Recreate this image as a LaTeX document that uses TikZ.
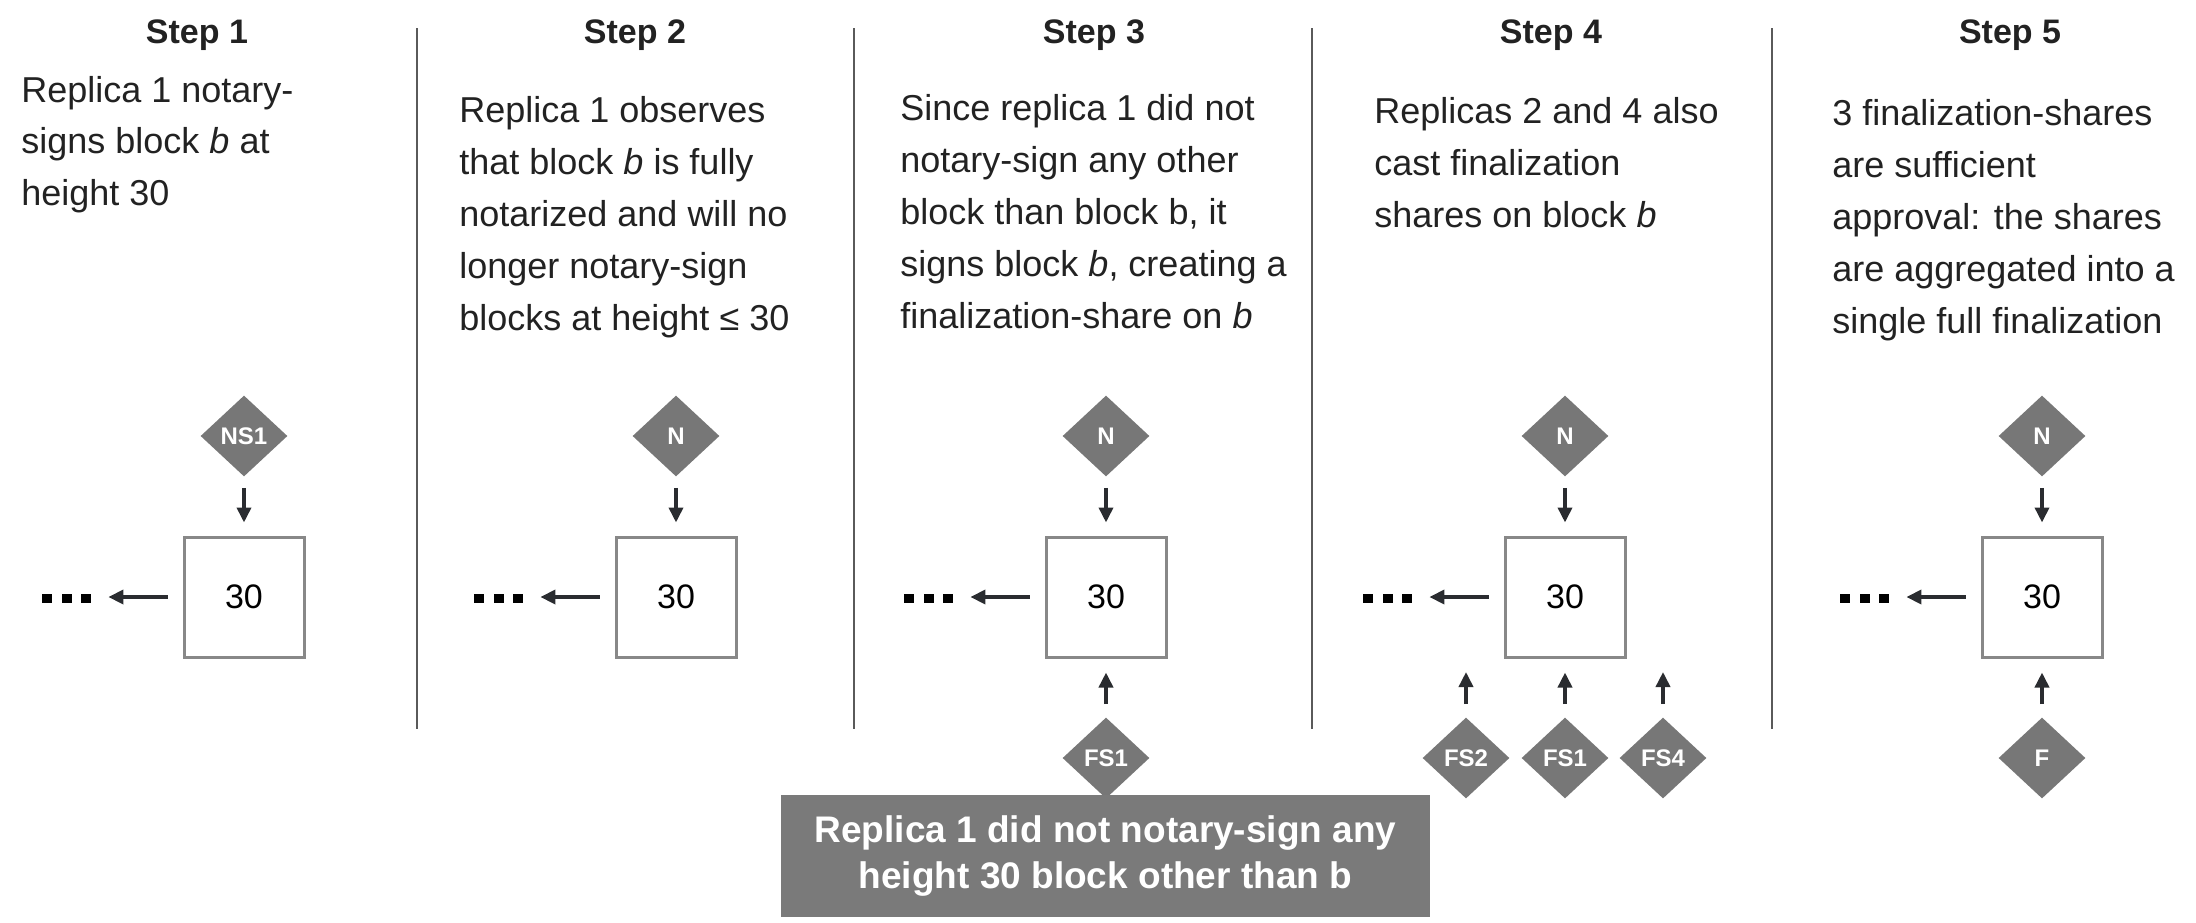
\documentclass[tikz,border=0pt]{standalone}
\usepackage{fontspec}
\setmainfont{Liberation Sans}
\usetikzlibrary{shapes.geometric,arrows.meta}
\definecolor{ink}{HTML}{222222}
\definecolor{arrc}{HTML}{2A2C30}
\definecolor{dgray}{HTML}{777777}
\definecolor{bgray}{HTML}{888888}
\definecolor{divc}{HTML}{5A5A5A}
\definecolor{notec}{HTML}{7A7A7A}
\begin{document}
\begin{tikzpicture}[x=0.5pt,y=-0.5pt,
 title/.style={font=\fontsize{17}{20}\selectfont\bfseries, text=ink, anchor=base, inner sep=0},
 body/.style={font=\fontsize{18}{22}\selectfont, text=ink, anchor=base west, inner sep=0},
 blk/.style={draw=bgray, line width=1.5pt, fill=white, minimum size=60pt, inner sep=0, font=\fontsize{17}{20}\selectfont, text=black},
 sig/.style={diamond, fill=dgray, minimum width=43.5pt, minimum height=40.5pt, inner sep=0, text=white, font=\fontsize{12}{13}\selectfont\bfseries},
 arr/.style={draw=arrc, line width=1.8pt, -{Triangle[length=7.5pt,width=7pt]}},
 divider/.style={draw=divc, line width=0.8pt},
 dotsq/.style={fill=black, minimum width=5pt, minimum height=4.5pt, inner sep=0},
 note/.style={fill=notec, text=white, minimum width=324.5pt, minimum height=61pt, inner sep=0, align=center, font=\fontsize{18.5}{23}\selectfont\bfseries},
]
\useasboundingbox (0,0) rectangle (2196,922);

% dividers
\foreach \xx [count=\i] in {417,854,1312,1772}
  \draw[divider] (\xx,28) coordinate (dt\i) -- (\xx,729) coordinate (db\i);

% titles
\node[title] (t1) at (197,43) {Step 1};
\node[title] (t2) at (635,43) {Step 2};
\node[title] (t3) at (1094,43) {Step 3};
\node[title] (t4) at (1551,43) {Step 4};
\node[title] (t5) at (2010,43) {Step 5};

% step 1 text
\node[body] (s1a) at (21,102) {Replica 1 notary-};
\node[body] (s1b) at (21,153.5) {signs block \textit{b} at};
\node[body] (s1c) at (21,205) {height 30};
% step 2 text
\node[body] (s2a) at (459,122) {Replica 1 observes};
\node[body] (s2b) at (459,174) {that block \textit{b} is fully};
\node[body] (s2c) at (459,226) {notarized and will no};
\node[body] (s2d) at (459,278) {longer notary-sign};
\node[body] (s2e) at (459,330) {blocks at height ≤ 30};
% step 3 text
\node[body] (s3a) at (900,120) {Since replica 1 did not};
\node[body] (s3b) at (900,172) {notary-sign any other};
\node[body] (s3c) at (900,224) {block than block b, it};
\node[body] (s3d) at (900,276) {signs block \textit{b}, creating a};
\node[body] (s3e) at (900,328) {finalization-share on \textit{b}};
% step 4 text
\node[body] (s4a) at (1374,123) {Replicas 2 and 4 also};
\node[body] (s4b) at (1374,175) {cast finalization};
\node[body] (s4c) at (1374,227) {shares on block \textit{b}};
% step 5 text
\node[body] (s5a) at (1832,125) {3 finalization-shares};
\node[body] (s5b) at (1832,177) {are sufficient};
\node[body] (s5c) at (1832,229) {approval: the shares};
\node[body] (s5d) at (1832,281) {are aggregated into a};
\node[body] (s5e) at (1832,333) {single full finalization};

% blocks, dots, chain arrows
\foreach \bx [count=\i] in {244,676,1106,1565,2042} {
  \node[blk] (b\i) at (\bx,597) {30};
  \node[dotsq] (d\i a) at (\bx-197,598) {};
  \node[dotsq] (d\i b) at (\bx-177,598) {};
  \node[dotsq] (d\i c) at (\bx-158,598) {};
  \draw[arr, shorten <=7.5pt, shorten >=8.5pt] (b\i.west) -- (d\i c.east |- b\i.west);
}

% top signatures
\node[sig] (n1) at (244,436) {NS1};
\node[sig] (n2) at (676,436) {N};
\node[sig] (n3) at (1106,436) {N};
\node[sig] (n4) at (1565,436) {N};
\node[sig] (n5) at (2042,436) {N};
\foreach \i in {1,...,5}
  \draw[arr, shorten <=5.5pt, shorten >=6.5pt] (n\i.south) -- (b\i.north);

% bottom signatures
\node[sig] (f3) at (1106,758) {FS1};
\node[sig] (f4a) at (1466,758) {FS2};
\node[sig] (f4b) at (1565,758) {FS1};
\node[sig] (f4c) at (1663,758) {FS4};
\node[sig] (f5) at (2042,758) {F};
\draw[arr, shorten <=6.5pt, shorten >=7pt] (f3.north) -- (b3.south);
\draw[arr, shorten <=6.5pt, shorten >=7pt] (f4b.north) -- (b4.south);
\draw[arr, shorten <=6.5pt, shorten >=7pt] (f5.north) -- (b5.south);
\coordinate (c4a) at (1466,658);
\coordinate (c4c) at (1663,658);
\draw[arr, shorten <=6.5pt, shorten >=7pt] (f4a.north) -- (c4a);
\draw[arr, shorten <=6.5pt, shorten >=7pt] (f4c.north) -- (c4c);

% note
\node[note] (note) at (1105.5,856) {Replica 1 did not notary-sign any\\height 30 block other than b};
\end{tikzpicture}
\end{document}
